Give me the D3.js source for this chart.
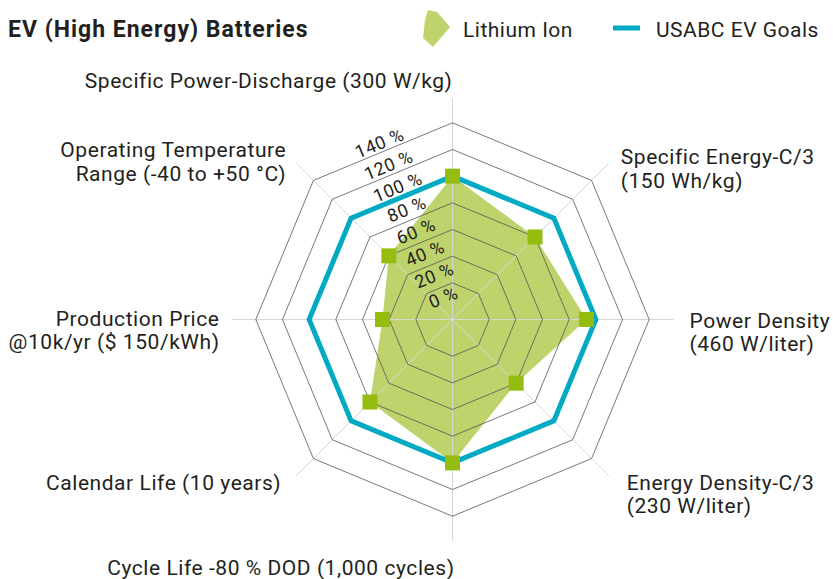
<!DOCTYPE html>
<html>
<head>
<meta charset="utf-8">
<script src="https://cdn.jsdelivr.net/npm/d3@7"></script>
<style>
  body { margin: 0; background: #fff; }
  #chart { width: 833px; height: 579px; }
  text { font-family: Roboto, "Noto Sans", sans-serif; fill: #231f20; }
</style>
</head>
<body>
<div id="chart"></div>
<script>
// axis names, clockwise from the top
var axes = [
    ["Specific Power-Discharge (300 W/kg)"],
    ["Specific Energy-C/3", "(150 Wh/kg)"],
    ["Power Density", "(460 W/liter)"],
    ["Energy Density-C/3", "(230 W/liter)"],
    ["Cycle Life -80 % DOD (1,000 cycles)"],
    ["Calendar Life (10 years)"],
    ["Production Price", "@10k/yr ($ 150/kWh)"],
    ["Operating Temperature", "Range (-40 to +50 °C)"]
];
var lithiumIon = [100, 80, 93, 60, 100, 80, 45, 60];
var usabcGoals = [100, 100, 100, 100, 100, 100, 100, 100];
var ticks = [0, 20, 40, 60, 80, 100, 120, 140];
var seriesNames = ["Lithium Ion", "USABC EV Goals"];

var width = 833, height = 579;
var cx = 452.5, cy = 319.5;
var spokeLength = 221;

var green = "#bed36c";
var marker = "#95bd10";
var blue = "#00aac2";

var svg = d3.select("#chart")
    .append("svg")
    .attr("width", width)
    .attr("height", height);

var r = d3.scaleLinear()
    .domain([0, 140])
    .range([10, 196.7]);

// tick labels sit just outside each ring, along the middle of the upper-left edge
var tickDist = d3.scaleLinear()
    .domain([0, 140])
    .range([24, 191]);

var angle = d3.scalePoint()
    .domain(d3.range(axes.length + 1))
    .range([0, 2 * Math.PI]);

function point(i, radius) {
    var a = angle(i);
    return [cx + radius * Math.sin(a), cy - radius * Math.cos(a)];
}

var radarLine = d3.lineRadial()
    .angle(function(d, i) { return angle(i); })
    .radius(function(d) { return r(d); })
    .curve(d3.curveLinearClosed);

var chart = svg.append("g")
    .attr("transform", "translate(" + cx + "," + cy + ")");

// Lithium Ion area
chart.append("path")
    .attr("d", radarLine(lithiumIon))
    .attr("fill", green);

// spokes
chart.selectAll(".spoke")
    .data(axes)
    .enter()
    .append("line")
    .attr("class", "spoke")
    .attr("x1", 0)
    .attr("y1", 0)
    .attr("x2", function(d, i) { return point(i, spokeLength)[0] - cx; })
    .attr("y2", function(d, i) { return point(i, spokeLength)[1] - cy; })
    .attr("stroke", "#d6d6d6")
    .attr("stroke-width", 1);

// rings
chart.selectAll(".ring")
    .data(ticks.slice(1))
    .enter()
    .append("path")
    .attr("class", "ring")
    .attr("d", function(t) { return radarLine(axes.map(function() { return t; })); })
    .attr("fill", "none")
    .attr("stroke", "#555")
    .attr("stroke-width", 0.8);

// USABC goals
chart.append("path")
    .attr("d", radarLine(usabcGoals))
    .attr("fill", "none")
    .attr("stroke", blue)
    .attr("stroke-width", 5)
    .attr("stroke-linejoin", "miter");

// markers
chart.selectAll(".marker")
    .data(lithiumIon)
    .enter()
    .append("rect")
    .attr("class", "marker")
    .attr("x", function(d, i) { return point(i, r(d))[0] - cx - 7.5; })
    .attr("y", function(d, i) { return point(i, r(d))[1] - cy - 7.5; })
    .attr("width", 15)
    .attr("height", 15)
    .attr("fill", marker);

// tick labels
var tickAngle = -Math.PI / 8;
chart.selectAll(".tick")
    .data(ticks)
    .enter()
    .append("text")
    .attr("class", "tick")
    .attr("transform", function(t) {
        var d = tickDist(t);
        return "translate(" + (d * Math.sin(tickAngle)) + "," + (-d * Math.cos(tickAngle)) + ") rotate(-22.5)";
    })
    .attr("text-anchor", "middle")
    .attr("dy", "0.35em")
    .style("font-size", "18px")
    .style("letter-spacing", "0.6px")
    .text(function(t) { return t + " %"; });

// axis labels: offset from the spoke end, anchor, line height 23.5
var labelLayout = [
    { dx: 0, dy: -11, anchor: "end" },
    { dx: 12, dy: 1, anchor: "start" },
    { dx: 16, dy: 8, anchor: "start" },
    { dx: 18, dy: 14, anchor: "start" },
    { dx: 2, dy: 34, anchor: "end" },
    { dx: -15, dy: 14, anchor: "end" },
    { dx: -12, dy: 6, anchor: "end" },
    { dx: -10, dy: -6, anchor: "end" }
];

svg.selectAll(".axis-label")
    .data(axes)
    .enter()
    .append("text")
    .attr("class", "axis-label")
    .attr("text-anchor", function(d, i) { return labelLayout[i].anchor; })
    .style("font-size", "21px")
    .style("letter-spacing", "0.55px")
    .each(function(lines, i) {
        var p = point(i, spokeLength);
        var x = p[0] + labelLayout[i].dx;
        var y = p[1] + labelLayout[i].dy;
        d3.select(this).selectAll("tspan")
            .data(lines)
            .enter()
            .append("tspan")
            .attr("x", x)
            .attr("y", function(l, k) { return y + k * 23.5; })
            .text(function(l) { return l; });
    });

// title
svg.append("text")
    .attr("x", 8)
    .attr("y", 37)
    .style("font-size", "23px")
    .style("font-weight", "bold")
    .style("letter-spacing", "1px")
    .text("EV (High Energy) Batteries");

// legend
var legend = svg.append("g");
legend.append("polygon")
    .attr("points", "428,10 437,12 450,27 433,47 423,38 425,20")
    .attr("fill", green);
legend.append("text")
    .attr("x", 463)
    .attr("y", 36.5)
    .style("font-size", "21px")
    .style("letter-spacing", "0.5px")
    .text(seriesNames[0]);
legend.append("line")
    .attr("x1", 613)
    .attr("x2", 640)
    .attr("y1", 28)
    .attr("y2", 28)
    .attr("stroke", blue)
    .attr("stroke-width", 5);
legend.append("text")
    .attr("x", 656)
    .attr("y", 36.5)
    .style("font-size", "21px")
    .style("letter-spacing", "0.5px")
    .text(seriesNames[1]);
</script>
</body>
</html>
